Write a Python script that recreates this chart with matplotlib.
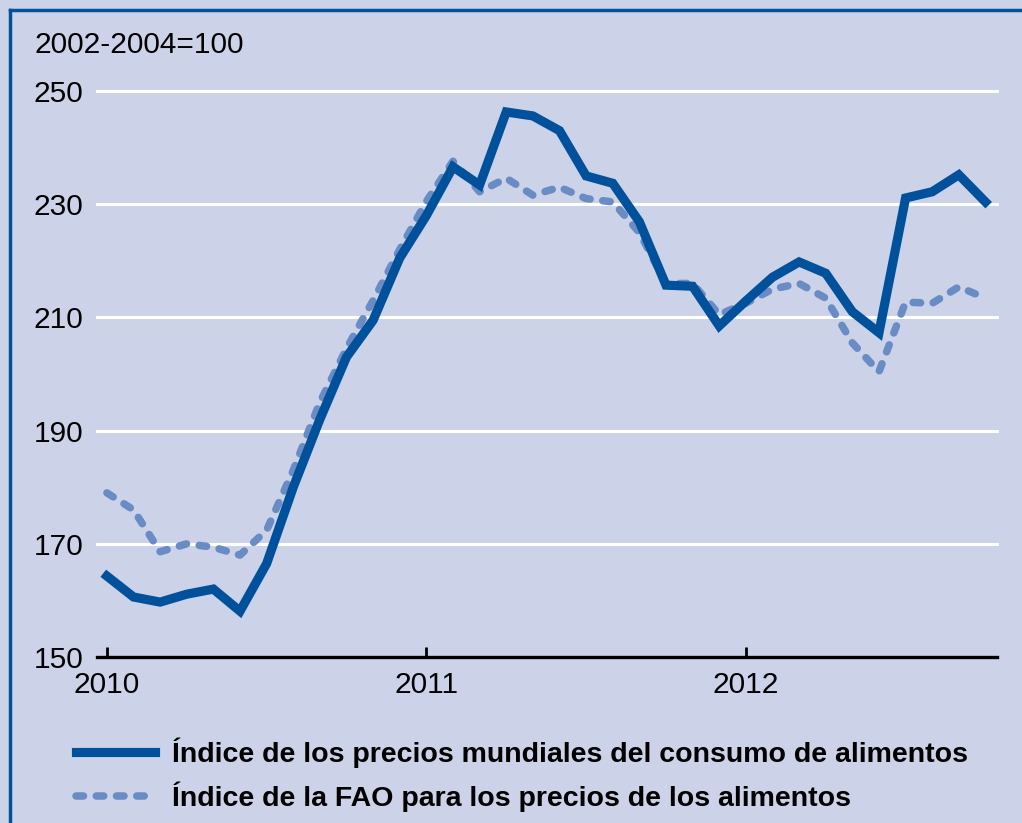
import matplotlib.pyplot as plt
import numpy as np

# Monthly values, Jan 2010 - Oct 2012 (2002-2004=100)
months = np.arange(34)
consumo = [164.3, 160.6, 159.7, 161.1, 162.0, 158.1, 166.5, 180.0, 192.0, 203.0, 209.5, 220.5,
           228.0, 236.6, 233.4, 246.3, 245.6, 243.0, 235.0, 233.7, 226.9, 215.7, 215.5, 208.5,
           212.9, 217.1, 219.8, 217.8, 211.0, 207.3, 231.1, 232.2, 235.2, 230.4]
fao = [179.0, 176.0, 168.6, 170.0, 169.4, 168.0, 172.4, 183.0, 195.0, 204.5, 213.0, 222.0,
       230.5, 237.6, 232.2, 234.6, 231.6, 233.0, 231.0, 230.4, 225.0, 216.0, 216.0, 210.5,
       212.5, 215.0, 216.0, 213.4, 205.5, 200.4, 212.7, 212.5, 215.4, 213.4]
labels = ['Índice de los precios mundiales del consumo de alimentos',
          'Índice de la FAO para los precios de los alimentos']
yticks = [150, 170, 190, 210, 230, 250]
years = [2010, 2011, 2012]

bg = '#ccd3e8'
dark = '#00519b'
light = '#6a8cc4'
plt.rcParams['font.family'] = ['Liberation Sans', 'DejaVu Sans']

fig = plt.figure(figsize=(10.22, 8.23), dpi=100, facecolor=bg)
ax = fig.add_axes([0.0949, 0.2017, 0.8806, 0.6877])
ax.set_facecolor(bg)

x = 2010 + months / 12
ax.plot(x, fao, color=light, lw=5.4, dashes=(1.0, 1.7), dash_capstyle='round',
        solid_joinstyle='round', label=labels[1], zorder=3)
ax.plot(x, consumo, color=dark, lw=6.6, solid_joinstyle='miter', label=labels[0], zorder=4)

ax.set_xlim(2009.969, 2012.786)
ax.set_ylim(150, 250)
ax.set_yticks(yticks)
for v in yticks[1:]:
    ax.axhline(v, color='white', lw=2.2, zorder=1, clip_on=False)
ax.set_xticks(years)
ax.tick_params(axis='y', length=0, pad=10, labelsize=21.5)
ax.tick_params(axis='x', direction='in', length=7, width=2, pad=10, labelsize=21.5)
for s in ['top', 'right', 'left']:
    ax.spines[s].set_visible(False)
ax.spines['bottom'].set_linewidth(2.4)

fig.text(35 / 1022, 1 - 45 / 823, '2002-2004=100', fontsize=21.5, va='center', ha='left')

h, l = ax.get_legend_handles_labels()
fig.legend(h[::-1], l[::-1], loc='upper left', bbox_to_anchor=(50 / 1022, 1 - 712 / 823),
           frameon=False, handlelength=2.8, handletextpad=0.6,
           labelspacing=0.48, prop={'weight': 'bold', 'size': 20.5})

# frame lines on left and top
fig.add_artist(plt.Line2D([10 / 1022, 10 / 1022], [0, 1 - 10 / 823], color=dark, lw=2.5))
fig.add_artist(plt.Line2D([10 / 1022, 1], [1 - 10 / 823, 1 - 10 / 823], color=dark, lw=2.5))

fig.savefig('out.png', dpi=100, facecolor=bg)
